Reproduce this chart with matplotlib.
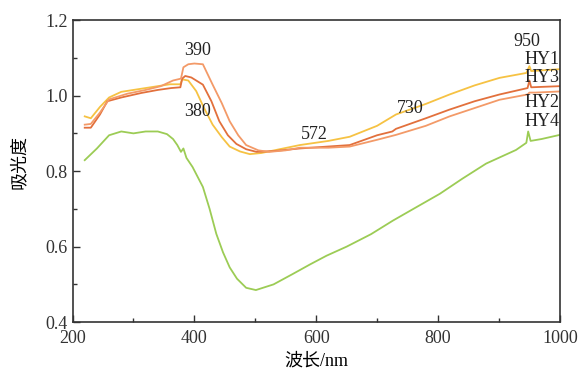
import matplotlib
matplotlib.use("Agg")
import matplotlib.pyplot as plt
from matplotlib.ticker import MultipleLocator

plt.rcParams['font.family'] = ['Liberation Serif', 'Noto Sans CJK SC', 'DejaVu Sans']

# ---- data (wavelength nm, absorbance) ----
hy1_x = [220, 230, 245, 260, 280, 300, 320, 340, 360, 377, 380, 390, 403, 415, 430, 445, 458, 475, 491,
         510, 540, 573, 620, 655, 700, 731, 780, 819, 860, 901, 945, 950, 953, 1000]
hy1_y = [0.945, 0.94, 0.97, 0.995, 1.01, 1.015, 1.02, 1.025, 1.03, 1.03, 1.043, 1.04, 1.012, 0.97, 0.923,
         0.89, 0.865, 0.852, 0.845, 0.848, 0.858, 0.869, 0.88, 0.891, 0.92, 0.95, 0.978, 1.003, 1.027,
         1.047, 1.06, 1.078, 1.065, 1.07]

hy3_x = [220, 230, 245, 257, 280, 313, 340, 362, 377, 380, 385, 395, 414, 428, 441, 455, 469, 485, 502,
         530, 573, 655, 700, 725, 731, 780, 819, 860, 901, 947, 950, 953, 1000]
hy3_y = [0.915, 0.915, 0.95, 0.985, 0.995, 1.007, 1.015, 1.02, 1.022, 1.045, 1.052, 1.048, 1.029, 0.985,
         0.932, 0.895, 0.872, 0.858, 0.851, 0.853, 0.86, 0.869, 0.895, 0.905, 0.912, 0.94, 0.963, 0.985,
         1.003, 1.02, 1.04, 1.022, 1.025]

hy2_x = [220, 230, 245, 260, 290, 320, 345, 365, 378, 382, 390, 400, 414, 430, 445, 458, 472, 485, 505,
         523, 550, 573, 620, 655, 700, 731, 780, 819, 860, 901, 947, 950, 960, 1000]
hy2_y = [0.923, 0.925, 0.955, 0.99, 1.005, 1.015, 1.025, 1.04, 1.045, 1.075, 1.083, 1.085, 1.083, 1.029,
         0.98, 0.932, 0.895, 0.869, 0.855, 0.851, 0.855, 0.862, 0.862, 0.865, 0.883, 0.896, 0.92, 0.945,
         0.967, 0.989, 1.003, 1.008, 1.008, 1.011]

hy4_x = [220, 240, 260, 280, 300, 320, 340, 355, 365, 372, 378, 382, 387, 397, 414, 425, 436, 447, 458,
         470, 485, 501, 530, 562, 590, 617, 650, 690, 726, 765, 803, 840, 879, 928, 945, 948, 952, 970, 1000]
hy4_y = [0.829, 0.86, 0.895, 0.905, 0.9, 0.905, 0.905, 0.898, 0.885, 0.869, 0.851, 0.86, 0.835, 0.811,
         0.758, 0.7, 0.634, 0.585, 0.545, 0.515, 0.491, 0.485, 0.5, 0.528, 0.553, 0.576, 0.6, 0.633, 0.669,
         0.705, 0.74, 0.78, 0.82, 0.856, 0.875, 0.905, 0.88, 0.885, 0.896]

series_names = ['HY1', 'HY3', 'HY2', 'HY4']
series_colors = ['#f6c243', '#e2703c', '#f39a68', '#9ccc55']

peak_labels = ['390', '380', '572', '730', '950']
peak_pos = [(405, 1.12), (405, 0.958), (597, 0.898), (755, 0.966), (945, 1.143)]
name_pos = [1.096, 1.047, 0.981, 0.932]

fig = plt.figure(figsize=(5.85, 3.72), dpi=100)
ax = fig.add_axes([0.124, 0.134, 0.833, 0.812])

for xs, ys, c in zip([hy1_x, hy3_x, hy2_x, hy4_x], [hy1_y, hy3_y, hy2_y, hy4_y], series_colors):
    ax.plot(xs, ys, color=c, lw=1.3)

for t, (px, py) in zip(peak_labels, peak_pos):
    ax.text(px, py, t, ha='center', va='center', fontsize=13, color='#222222')
for t, py in zip(series_names, name_pos):
    ax.text(1000, py, t, ha='right', va='center', fontsize=13, color='#222222')

ax.set_xlim(200, 1000)
ax.set_ylim(0.4, 1.2)
ax.xaxis.set_major_locator(MultipleLocator(200))
ax.xaxis.set_minor_locator(MultipleLocator(100))
ax.yaxis.set_major_locator(MultipleLocator(0.2))
ax.yaxis.set_minor_locator(MultipleLocator(0.1))
ax.yaxis.set_major_formatter(plt.FuncFormatter(lambda v, p: f'{v:.1f}'))
ax.tick_params(which='both', direction='in', colors='#333333', labelsize=13)
ax.tick_params(which='major', length=5, width=1)
ax.tick_params(which='minor', length=3, width=1)
ax.tick_params(axis='x', which='major', pad=5.5)
ax.tick_params(axis='y', which='major', pad=3.5)
for s in ax.spines.values():
    s.set_color('#333333')
    s.set_linewidth(1.2)

ax.set_xlabel('波长/nm', fontsize=13, labelpad=4)
ax.set_ylabel('吸光度', fontsize=13, labelpad=8)
ax.yaxis.set_label_coords(-0.092, 0.53)

fig.savefig('out.png', dpi=100)
